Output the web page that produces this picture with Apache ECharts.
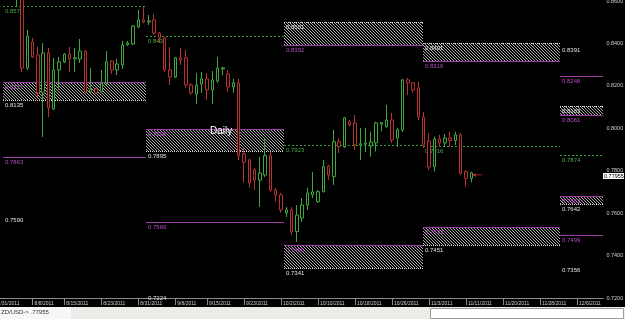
<!DOCTYPE html>
<html><head><meta charset="utf-8">
<script src="https://cdn.jsdelivr.net/npm/echarts@6/dist/echarts.min.js"></script>
<style>html,body{margin:0;padding:0;background:#000;overflow:hidden}#c{width:625px;height:319px}</style>
</head><body><div id="c"></div>
<script>
// ---- data ----
const startDate = [2011, 6, 31];      // 7/31/2011 (daily bars, Saturdays skipped)
const barCount = 116;
const tickDates = ['7/31/2011','8/8/2011','8/15/2011','8/23/2011','8/31/2011','9/8/2011','9/15/2011',
  '9/23/2011','10/2/2011','10/10/2011','10/18/2011','10/26/2011','11/3/2011','11/11/2011',
  '11/20/2011','11/28/2011','12/6/2011'];
const opens = [0.8790,0.8775,0.8720,0.8690,0.8640,0.8660,0.8284,0.8407,0.8346,0.8167,
0.8355,0.8091,0.8275,0.8313,0.8350,0.8327,0.8327,0.8364,0.8171,0.8185,
0.8171,0.8214,0.8317,0.8275,0.8299,0.8393,0.8398,0.8478,0.8511,0.8501,
0.8511,0.8449,0.8426,0.8275,0.8242,0.8332,0.8332,0.8204,0.8162,0.8209,
0.8233,0.8181,0.8223,0.8280,0.8256,0.8195,0.8214,0.7880,0.7851,0.7803,
0.7756,0.7780,0.7871,0.7709,0.7686,0.7601,0.7615,0.7513,0.7577,0.7638,
0.7686,0.7654,0.7701,0.7822,0.7772,0.7937,0.7913,0.8031,0.8025,0.7921,
0.7925,0.7917,0.7931,0.8020,0.8008,0.8039,0.7954,0.7992,0.8228,0.8214,
0.8190,0.8053,0.7940,0.7819,0.7950,0.7931,0.7954,0.7942,0.7969,0.7796,
0.7764];
const closes = [0.8775,0.8720,0.8690,0.8640,0.8680,0.8284,0.8435,0.8336,0.8167,0.8355,
0.8096,0.8275,0.8313,0.8350,0.8327,0.8332,0.8364,0.8171,0.8185,0.8167,
0.8214,0.8313,0.8275,0.8303,0.8393,0.8402,0.8482,0.8511,0.8501,0.8506,
0.8449,0.8426,0.8275,0.8242,0.8332,0.8322,0.8204,0.8167,0.8204,0.8233,
0.8181,0.8228,0.8284,0.8285,0.8195,0.8214,0.7870,0.7840,0.7742,0.7756,
0.7789,0.7871,0.7709,0.7686,0.7615,0.7615,0.7513,0.7591,0.7638,0.7695,
0.7700,0.7701,0.7819,0.7780,0.7937,0.7913,0.8049,0.8016,0.7921,0.7927,
0.7930,0.7935,0.8025,0.8027,0.8039,0.7945,0.7992,0.8228,0.8214,0.8181,
0.8053,0.7921,0.7818,0.7950,0.7931,0.7954,0.7942,0.7969,0.7788,0.7764,
0.7790];
const lows = [0.8760,0.8700,0.8660,0.8610,0.8575,0.8266,0.8275,0.8332,0.8148,0.7959,
0.8053,0.8086,0.8181,0.8308,0.8266,0.8266,0.8308,0.8167,0.8167,0.8162,
0.8167,0.8204,0.8256,0.8251,0.8280,0.8388,0.8393,0.8473,0.8497,0.8487,
0.8440,0.8402,0.8266,0.8204,0.8237,0.8299,0.8190,0.8157,0.8115,0.8167,
0.8134,0.8115,0.8214,0.8251,0.8171,0.8167,0.7850,0.7745,0.7719,0.7709,
0.7629,0.7770,0.7701,0.7654,0.7601,0.7582,0.7497,0.7465,0.7558,0.7615,
0.7671,0.7648,0.7697,0.7756,0.7733,0.7884,0.7907,0.8008,0.7898,0.7851,
0.7888,0.7866,0.7890,0.7985,0.8002,0.7931,0.7913,0.7983,0.8157,0.8167,
0.8039,0.7907,0.7803,0.7796,0.7913,0.7913,0.7913,0.7921,0.7780,0.7725,
0.7745];
const highs = [0.8800,0.8790,0.8740,0.8720,0.8700,0.8680,0.8464,0.8426,0.8383,0.8402,
0.8379,0.8332,0.8336,0.8355,0.8383,0.8379,0.8421,0.8369,0.8284,0.8190,
0.8275,0.8364,0.8322,0.8327,0.8412,0.8412,0.8487,0.8558,0.8572,0.8534,
0.8539,0.8454,0.8431,0.8383,0.8336,0.8379,0.8369,0.8214,0.8261,0.8266,
0.8261,0.8270,0.8336,0.8290,0.8275,0.8233,0.8233,0.7910,0.7856,0.7813,
0.7865,0.7950,0.7890,0.7719,0.7695,0.7629,0.7629,0.7638,0.7671,0.7719,
0.7794,0.7709,0.7851,0.7827,0.7992,0.7954,0.8053,0.8039,0.8063,0.8002,
0.8002,0.7984,0.8031,0.8029,0.8110,0.8072,0.8002,0.8233,0.8237,0.8219,
0.8218,0.8077,0.7978,0.7961,0.7969,0.7973,0.7984,0.7984,0.7978,0.7803,
0.7795];
// zone columns (bar positions where the indicator boxes start/end)
const colEdges = [1.4, 28.5, 54.6, 80.9, 106.8, 115];
// hatched zones
const zoneCol    = [0, 1, 2, 2, 3, 3, 4, 4];
const zoneTop    = [0.8217, 0.7996, 0.8501, 0.7450, 0.8401, 0.7533, 0.8103, 0.7682];
const zoneBottom = [0.8135, 0.7895, 0.8392, 0.7341, 0.8316, 0.7451, 0.8061, 0.7642];
const zoneKind   = ['demand','demand','supply','demand','supply','demand','supply','demand'];
// single levels
const levelCol   = [0, 1, 2, 3, 4, 4, 0, 1, 4, 0, 4, 4, 1];
const levelValue = [0.8578, 0.8436, 0.7923, 0.7916, 0.7874, 0.8248, 0.7863, 0.7560, 0.7499, 0.7590, 0.8391, 0.7356, 0.7224];
const levelKind  = ['green','green','green','green','green','purple','purple','purple','purple','white','white','white','white'];
const currentPrice = 0.77955;
const statusText = 'ZD/USD-> .77955';
const chartTitle = 'Daily';

// ---- build ----
const categories = [];
let d = new Date(Date.UTC(startDate[0], startDate[1], startDate[2]));
while (categories.length < barCount) {
  if (d.getUTCDay() !== 6) categories.push((d.getUTCMonth()+1) + '/' + d.getUTCDate() + '/' + d.getUTCFullYear());
  d = new Date(d.getTime() + 86400000);
}
const candles = opens.map((o, i) => [o, closes[i], lows[i], highs[i]]);

const UP = '#3fa83f', DOWN = '#b83232', PURPLE = '#9c3aa8', PURPLE_T = '#b54cc4', GREEN_L = '#3a9a3a', WHITE_L = '#d8d8d8';
const FONT = '6px "Liberation Sans", Arial, sans-serif';

const pc = document.createElement('canvas');
pc.width = 3; pc.height = 3;
const g = pc.getContext('2d');
g.fillStyle = '#000'; g.fillRect(0, 0, 3, 3);
g.fillStyle = '#ababab';
for (let k = 0; k < 3; k++) g.fillRect(k, k, 1, 1);
const hatch = { image: pc, repeat: 'repeat' };

function hline(xa, xb, y, kind) {
  const yy = Math.round(y) + 0.5;
  const st = kind === 'purple' ? { stroke: PURPLE, lineWidth: 1 }
           : kind === 'green' ? { stroke: GREEN_L, lineWidth: 1, lineDash: [2, 2] }
           : { stroke: WHITE_L, lineWidth: 1, lineDash: [1, 1] };
  return { type: 'line', shape: { x1: xa, y1: yy, x2: xb, y2: yy }, style: st };
}
function label(txt, x, y, kind) {
  const col = kind === 'purple' ? PURPLE_T : kind === 'green' ? '#46b046' : '#e0e0e0';
  return { type: 'text', x: x, y: y, style: { text: txt, fill: col, font: FONT, textAlign: 'left', textVerticalAlign: 'top' } };
}

function renderZone(params, api) {
  const i = params.dataIndex;
  const p0 = api.coord([api.value(0), api.value(2)]);
  const p1 = api.coord([api.value(1), api.value(3)]);
  const xa = Math.round(p0[0]), xb = Math.round(p1[0]);
  const yt = Math.round(p0[1]), yb = Math.round(p1[1]);
  const demand = zoneKind[i] === 'demand';
  const topKind = demand ? 'purple' : 'white';
  const botKind = demand ? 'white' : 'purple';
  return { type: 'group', children: [
    { type: 'rect', shape: { x: xa, y: yt, width: xb - xa, height: yb - yt }, style: { fill: hatch } },
    hline(xa, xb, yt, topKind),
    hline(xa, xb, yb, botKind),
    label(zoneTop[i].toFixed(4), xa + 2, yt + 2, topKind),
    label(zoneBottom[i].toFixed(4), xa + 2, yb + 2, botKind)
  ]};
}
function renderLevel(params, api) {
  const i = params.dataIndex;
  const p0 = api.coord([api.value(0), api.value(2)]);
  const p1 = api.coord([api.value(1), api.value(2)]);
  const xa = Math.round(p0[0]), xb = Math.round(p1[0]);
  const children = [label(levelValue[i].toFixed(4), xa + 2, Math.round(p0[1]) + 2, levelKind[i])];
  if (levelKind[i] !== 'white') children.unshift(hline(xa, xb, p0[1], levelKind[i]));
  return { type: 'group', children };
}
function renderPrice(params, api) {
  const p = api.coord([api.value(0), api.value(1)]);
  const x = Math.round(p[0]), y = Math.round(p[1]) + 1;
  return { type: 'group', children: [
    { type: 'rect', shape: { x: x, y: y, width: 21, height: 6 }, style: { fill: '#fff' } },
    { type: 'text', x: x + 1, y: y + 0.5, style: { text: currentPrice.toFixed(5), fill: '#000', font: '5.5px "Liberation Sans", Arial, sans-serif', textVerticalAlign: 'top' } }
  ]};
}

const showTick = (idx, val) => tickDates.indexOf(val) >= 0;

const chart = echarts.init(document.getElementById('c'), null, { renderer: 'canvas' });
chart.setOption({
  backgroundColor: '#000',
  animation: false,
  grid: { left: -4.4, right: 21.6, top: 1, bottom: 21, containLabel: false, outerBoundsMode: 'none' },
  xAxis: [
    { type: 'category', data: categories, boundaryGap: false,
      axisLine: { show: true, lineStyle: { color: '#8a8a8a', width: 1 } },
      axisTick: { show: true, interval: showTick, length: 7, lineStyle: { color: '#8a8a8a' } },
      axisLabel: { show: true, interval: showTick, color: '#cfcfcf', fontSize: 5, fontFamily: '"Liberation Sans", Arial, sans-serif', align: 'left', margin: 3, padding: [0, 0, 0, 2] },
      splitLine: { show: false } },
    { type: 'value', min: 0, max: 115, show: false }
  ],
  yAxis: [{ type: 'value', position: 'right', min: 0.72, max: 0.86, interval: 0.02,
    axisLine: { show: true, lineStyle: { color: '#9a9a9a', width: 1 } },
    axisTick: { show: true, length: 3, lineStyle: { color: '#9a9a9a' } },
    axisLabel: { color: '#cfcfcf', fontSize: 5.5, fontFamily: '"Liberation Sans", Arial, sans-serif', margin: 3, formatter: v => v.toFixed(4) },
    splitLine: { show: false } }],
  series: [
    { type: 'custom', name: 'zones', xAxisIndex: 1, yAxisIndex: 0, z: 1, clip: true,
      data: zoneCol.map((c, i) => [colEdges[c], colEdges[c + 1], zoneTop[i], zoneBottom[i]]),
      renderItem: renderZone },
    { type: 'custom', name: 'levels', xAxisIndex: 1, yAxisIndex: 0, z: 1, clip: false,
      data: levelCol.map((c, i) => [colEdges[c], colEdges[c + 1], levelValue[i]]),
      renderItem: renderLevel },
    { type: 'candlestick', name: 'NZDUSD', xAxisIndex: 0, yAxisIndex: 0, z: 3, clip: true,
      barWidth: 3, data: candles,
      itemStyle: { color: '#000', color0: '#000', borderColor: UP, borderColor0: DOWN, borderWidth: 1 },
      markPoint: { silent: true, animation: false,
        symbol: 'path://M0,3 L4,0 L4,2.5 L12,2.5 L12,3.5 L4,3.5 L4,6 Z', symbolSize: [10, 4], symbolOffset: [6, 0],
        itemStyle: { color: '#c83030' }, label: { show: false },
        data: [{ coord: [categories[90], closes[90] - 0.0010] }] } },
    { type: 'custom', name: 'price', xAxisIndex: 1, yAxisIndex: 0, z: 5, clip: false,
      data: [[115, currentPrice]], renderItem: renderPrice }
  ],
  graphic: [
    { type: 'text', left: 210, top: 126, z: 10, style: { text: chartTitle, fill: '#fff', font: '10px "Liberation Sans", Arial, sans-serif' } },
    { type: 'rect', left: 0, top: 307, z: 10, shape: { width: 625, height: 12 }, style: { fill: '#ecebe8' } },
    { type: 'rect', left: 0, top: 307, z: 10, shape: { width: 71, height: 12 }, style: { fill: '#f7f7f7' } },
    { type: 'text', left: 1, top: 309, z: 11, style: { text: statusText, fill: '#333', font: '6px "Liberation Sans", Arial, sans-serif' } },
    { type: 'rect', left: 430, top: 308, z: 10, shape: { width: 193, height: 10 }, style: { fill: '#fff', stroke: '#9a9a9a', lineWidth: 1 } }
  ]
});
</script>
</body></html>
